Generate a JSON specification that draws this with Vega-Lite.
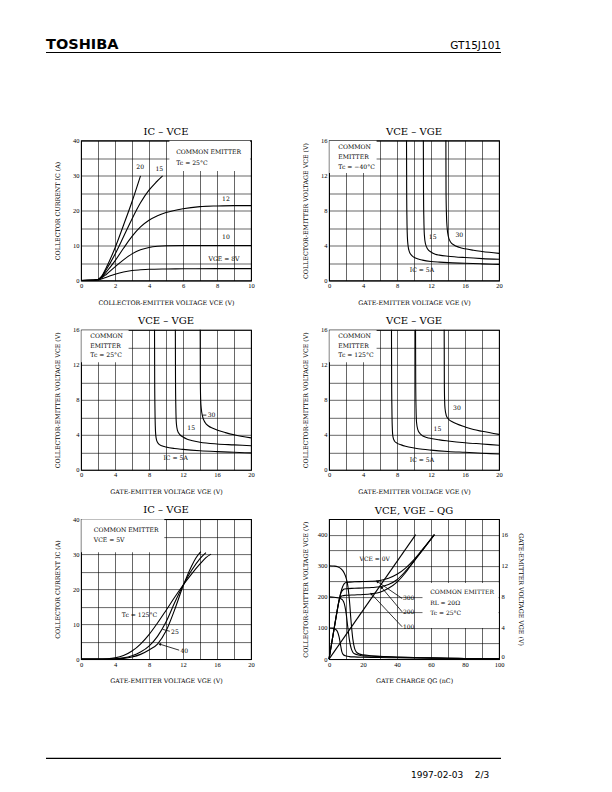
{
"$schema": "https://vega.github.io/schema/vega-lite/v6.json",
"padding": {"left": 45, "top": 36.5, "right": 5, "bottom": 5},
"background": "white",
"config": {
  "view": {"stroke": "#000", "strokeWidth": 1.1},
  "axis": {"grid": true, "gridColor": "#000", "gridWidth": 0.6, "gridOpacity": 1, "domain": false, "ticks": false,
    "labelFont": "Liberation Serif", "labelFontSize": 6.5, "labelColor": "#000", "labelPadding": 2, "labelOverlap": false, "labelFlush": false,
    "titleFont": "DejaVu Serif", "titleFontSize": 6.3, "titleFontWeight": "normal", "titleColor": "#000"},
  "axisX": {"titlePadding": 10},
  "axisY": {"titlePadding": 11.7},
  "title": {"font": "DejaVu Serif", "fontSize": 10, "fontWeight": "normal", "color": "#000", "offset": 1, "baseline": "alphabetic", "frame": "group"}
},
"spacing": 0,
"vconcat": [
  {
    "width": 455, "height": 72.5, "view": {"stroke": null},
    "encoding": {
      "x": {"field": "x", "type": "quantitative", "scale": {"domain": [0, 1]}, "axis": null},
      "y": {"field": "y", "type": "quantitative", "scale": {"domain": [0, 1]}, "axis": null}
    },
    "layer": [
      {"data": {"values": [{"x": 0, "x2": 1, "y": 1}]}, "mark": {"type": "rule", "color": "#000", "strokeWidth": 1.2}, "encoding": {"x2": {"field": "x2"}}},
      {"data": {"values": [{"x": 0, "y": 1, "t": "TOSHIBA"}]}, "mark": {"type": "text", "font": "DejaVu Sans", "fontWeight": "bold", "fontSize": 14.5, "align": "left", "baseline": "alphabetic", "dy": -4, "color": "#000"}, "encoding": {"text": {"field": "t"}}},
      {"data": {"values": [{"x": 1, "y": 1, "t": "GT15J101"}]}, "mark": {"type": "text", "font": "DejaVu Sans", "fontSize": 10.5, "align": "right", "baseline": "alphabetic", "dy": -4, "color": "#000"}, "encoding": {"text": {"field": "t"}}}
    ]
  },
  {
    "spacing": 0,
    "hconcat": [
      {"width": 8, "height": 10, "view": {"stroke": null}, "data": {"values": [{"t": ""}]}, "mark": {"type": "text"}, "encoding": {"text": {"field": "t"}}},
      {
        "spacing": 8.3,
        "vconcat": [
          {
            "spacing": 47,
            "hconcat": [
              {
                "width": 170, "height": 140,
                "title": {"text": "IC – VCE"},
                "encoding": {
                  "x": {"field": "x", "type": "quantitative", "scale": {"domain": [0, 10], "nice": false, "zero": false}, "axis": {"values": [0,1,2,3,4,5,6,7,8,9,10], "labelExpr": "datum.value % 2 === 0 ? datum.label : ''", "title": "COLLECTOR-EMITTER VOLTAGE   VCE   (V)"}},
                  "y": {"field": "y", "type": "quantitative", "scale": {"domain": [0, 40], "nice": false, "zero": false}, "axis": {"values": [0,5,10,15,20,25,30,35,40], "labelExpr": "datum.value % 10 === 0 ? datum.label : ''", "title": "COLLECTOR CURRENT   IC   (A)"}}
                },
                "layer": [
                  {"data": {"values": [{"x": 5.2, "y": 31.3, "x2": 9.94, "y2": 39.94}]}, "mark": {"type": "rect", "fill": "white"}, "encoding": {"x2": {"field": "x2"}, "y2": {"field": "y2"}}},
                  {"data": {"values": [
                    {"s":"8","x":0,"y":0},{"s":"8","x":0.5,"y":0.03},{"s":"8","x":1,"y":0.2},{"s":"8","x":1.2,"y":0.45},{"s":"8","x":1.5,"y":0.95},{"s":"8","x":2,"y":1.8},{"s":"8","x":2.5,"y":2.45},{"s":"8","x":3,"y":2.85},{"s":"8","x":3.5,"y":3.05},{"s":"8","x":4,"y":3.2},{"s":"8","x":5,"y":3.3},{"s":"8","x":6,"y":3.35},{"s":"8","x":8,"y":3.4},{"s":"8","x":10,"y":3.4},
                    {"s":"10","x":0,"y":0},{"s":"10","x":0.5,"y":0.03},{"s":"10","x":1,"y":0.25},{"s":"10","x":1.2,"y":0.7},{"s":"10","x":1.5,"y":1.8},{"s":"10","x":2,"y":3.9},{"s":"10","x":2.5,"y":5.9},{"s":"10","x":3,"y":7.6},{"s":"10","x":3.5,"y":8.8},{"s":"10","x":4,"y":9.45},{"s":"10","x":4.5,"y":9.8},{"s":"10","x":5,"y":9.95},{"s":"10","x":6,"y":10},{"s":"10","x":8,"y":10},{"s":"10","x":10,"y":10},
                    {"s":"12","x":0,"y":0},{"s":"12","x":0.5,"y":0.03},{"s":"12","x":1,"y":0.25},{"s":"12","x":1.2,"y":0.85},{"s":"12","x":1.5,"y":2.5},{"s":"12","x":2,"y":5.6},{"s":"12","x":2.5,"y":9.2},{"s":"12","x":3,"y":12.6},{"s":"12","x":3.5,"y":15.3},{"s":"12","x":4,"y":17.2},{"s":"12","x":4.5,"y":18.5},{"s":"12","x":5,"y":19.4},{"s":"12","x":6,"y":20.5},{"s":"12","x":7,"y":21.1},{"s":"12","x":8,"y":21.3},{"s":"12","x":9,"y":21.4},{"s":"12","x":10,"y":21.4},
                    {"s":"15","x":0,"y":0},{"s":"15","x":0.5,"y":0.03},{"s":"15","x":1,"y":0.3},{"s":"15","x":1.2,"y":1.0},{"s":"15","x":1.5,"y":3.2},{"s":"15","x":2,"y":7.5},{"s":"15","x":2.5,"y":12.5},{"s":"15","x":3,"y":17.6},{"s":"15","x":3.5,"y":22.2},{"s":"15","x":4,"y":25.8},{"s":"15","x":4.4,"y":28},{"s":"15","x":4.8,"y":29.9},
                    {"s":"20","x":0,"y":0},{"s":"20","x":0.5,"y":0.03},{"s":"20","x":1,"y":0.3},{"s":"20","x":1.2,"y":1.1},{"s":"20","x":1.5,"y":3.8},{"s":"20","x":2,"y":9.3},{"s":"20","x":2.5,"y":15.8},{"s":"20","x":3,"y":22.5},{"s":"20","x":3.5,"y":29.9}
                  ]}, "mark": {"type": "line", "interpolate": "monotone", "color": "#000", "strokeWidth": 1.1}, "encoding": {"detail": {"field": "s"}}},
                  {"data": {"values": [
                    {"x":5.6,"y":36.7,"t":"COMMON EMITTER"},{"x":5.6,"y":33.5,"t":"Tc = 25°C"},{"x":3.25,"y":32.3,"t":"20"},{"x":4.38,"y":31.8,"t":"15"},{"x":8.3,"y":23.2,"t":"12"},{"x":8.3,"y":12.4,"t":"10"},{"x":7.5,"y":6.1,"t":"VGE = 8V"}
                  ]}, "mark": {"type": "text", "font": "DejaVu Serif", "fontSize": 6.1, "align": "left", "baseline": "middle", "color": "#000"}, "encoding": {"text": {"field": "t"}}}
                ]
              },
              {
                "width": 170, "height": 140,
                "title": {"text": "VCE – VGE"},
                "encoding": {
                  "x": {"field": "x", "type": "quantitative", "scale": {"domain": [0, 20], "nice": false, "zero": false}, "axis": {"values": [0,2,4,6,8,10,12,14,16,18,20], "labelExpr": "datum.value % 4 === 0 ? datum.label : ''", "title": "GATE-EMITTER VOLTAGE   VGE   (V)"}},
                  "y": {"field": "y", "type": "quantitative", "scale": {"domain": [0, 16], "nice": false, "zero": false}, "axis": {"values": [0,2,4,6,8,10,12,14,16], "labelExpr": "datum.value % 4 === 0 ? datum.label : ''", "title": "COLLECTOR-EMITTER VOLTAGE   VCE   (V)"}}
                },
                "layer": [
                  {"data": {"values": [{"x": 0.04, "y": 12.3, "x2": 5.6, "y2": 15.96}]}, "mark": {"type": "rect", "fill": "white"}, "encoding": {"x2": {"field": "x2"}, "y2": {"field": "y2"}}},
                  {"data": {"values": [
                    {"s":"5","x":9.12,"y":16},{"s":"5","x":9.14,"y":10},{"s":"5","x":9.17,"y":7},{"s":"5","x":9.22,"y":5},{"s":"5","x":9.3,"y":4},{"s":"5","x":9.45,"y":3.3},{"s":"5","x":9.7,"y":2.9},{"s":"5","x":10,"y":2.65},{"s":"5","x":10.5,"y":2.45},{"s":"5","x":11,"y":2.33},{"s":"5","x":12,"y":2.18},{"s":"5","x":13,"y":2.1},{"s":"5","x":14,"y":2.04},{"s":"5","x":16,"y":1.97},{"s":"5","x":18,"y":1.9},{"s":"5","x":20,"y":1.84},
                    {"s":"15","x":11.1,"y":16},{"s":"15","x":11.12,"y":10},{"s":"15","x":11.16,"y":7},{"s":"15","x":11.22,"y":5.2},{"s":"15","x":11.35,"y":4.2},{"s":"15","x":11.6,"y":3.6},{"s":"15","x":12,"y":3.25},{"s":"15","x":12.5,"y":3.0},{"s":"15","x":13,"y":2.9},{"s":"15","x":14,"y":2.78},{"s":"15","x":16,"y":2.62},{"s":"15","x":18,"y":2.5},{"s":"15","x":20,"y":2.42},
                    {"s":"30","x":13.75,"y":16},{"s":"30","x":13.77,"y":10},{"s":"30","x":13.82,"y":7.5},{"s":"30","x":13.9,"y":6},{"s":"30","x":14.05,"y":5},{"s":"30","x":14.3,"y":4.4},{"s":"30","x":14.7,"y":4.05},{"s":"30","x":15.3,"y":3.8},{"s":"30","x":16,"y":3.62},{"s":"30","x":17,"y":3.45},{"s":"30","x":18,"y":3.32},{"s":"30","x":20,"y":3.1}
                  ]}, "mark": {"type": "line", "interpolate": "monotone", "color": "#000", "strokeWidth": 1.1}, "encoding": {"detail": {"field": "s"}}},
                  {"data": {"values": [
                    {"x":1.1,"y":15.3,"t":"COMMON"},{"x":1.1,"y":14.06,"t":"EMITTER"},{"x":1.1,"y":13.0,"t":"Tc = −40°C"},{"x":11.74,"y":4.95,"t":"15"},{"x":14.87,"y":5.2,"t":"30"},{"x":9.5,"y":1.22,"t":"IC = 5A"}
                  ]}, "mark": {"type": "text", "font": "DejaVu Serif", "fontSize": 6.1, "align": "left", "baseline": "middle", "color": "#000"}, "encoding": {"text": {"field": "t"}}}
                ]
              }
            ]
          },
          {
            "spacing": 47,
            "hconcat": [
              {
                "width": 170, "height": 140,
                "title": {"text": "VCE – VGE"},
                "encoding": {
                  "x": {"field": "x", "type": "quantitative", "scale": {"domain": [0, 20], "nice": false, "zero": false}, "axis": {"values": [0,2,4,6,8,10,12,14,16,18,20], "labelExpr": "datum.value % 4 === 0 ? datum.label : ''", "title": "GATE-EMITTER VOLTAGE   VGE   (V)"}},
                  "y": {"field": "y", "type": "quantitative", "scale": {"domain": [0, 16], "nice": false, "zero": false}, "axis": {"values": [0,2,4,6,8,10,12,14,16], "labelExpr": "datum.value % 4 === 0 ? datum.label : ''", "title": "COLLECTOR-EMITTER VOLTAGE   VCE   (V)"}}
                },
                "layer": [
                  {"data": {"values": [{"x": 0.04, "y": 12.3, "x2": 5.6, "y2": 15.96}]}, "mark": {"type": "rect", "fill": "white"}, "encoding": {"x2": {"field": "x2"}, "y2": {"field": "y2"}}},
                  {"data": {"values": [
                    {"s":"5","x":8.65,"y":16},{"s":"5","x":8.67,"y":10},{"s":"5","x":8.7,"y":7},{"s":"5","x":8.74,"y":5},{"s":"5","x":8.8,"y":3.9},{"s":"5","x":8.92,"y":3.3},{"s":"5","x":9.1,"y":3.0},{"s":"5","x":9.5,"y":2.75},{"s":"5","x":10,"y":2.6},{"s":"5","x":11,"y":2.43},{"s":"5","x":12,"y":2.33},{"s":"5","x":14,"y":2.18},{"s":"5","x":16,"y":2.08},{"s":"5","x":18,"y":2.0},{"s":"5","x":20,"y":1.93},
                    {"s":"15","x":11.1,"y":16},{"s":"15","x":11.12,"y":10},{"s":"15","x":11.16,"y":7},{"s":"15","x":11.22,"y":5.3},{"s":"15","x":11.35,"y":4.5},{"s":"15","x":11.6,"y":4.05},{"s":"15","x":12,"y":3.75},{"s":"15","x":12.5,"y":3.5},{"s":"15","x":13,"y":3.35},{"s":"15","x":14,"y":3.15},{"s":"15","x":16,"y":2.95},{"s":"15","x":18,"y":2.85},{"s":"15","x":20,"y":2.75},
                    {"s":"30","x":14.02,"y":16},{"s":"30","x":14.04,"y":10},{"s":"30","x":14.08,"y":8},{"s":"30","x":14.15,"y":7},{"s":"30","x":14.3,"y":6.1},{"s":"30","x":14.6,"y":5.4},{"s":"30","x":15,"y":5.0},{"s":"30","x":15.5,"y":4.75},{"s":"30","x":16,"y":4.55},{"s":"30","x":17,"y":4.25},{"s":"30","x":18,"y":4.0},{"s":"30","x":20,"y":3.65}
                  ]}, "mark": {"type": "line", "interpolate": "monotone", "color": "#000", "strokeWidth": 1.1}, "encoding": {"detail": {"field": "s"}}},
                  {"data": {"values": [{"x": 14.3, "x2": 14.75, "y": 6.25}]}, "mark": {"type": "rule", "color": "#000", "strokeWidth": 0.8}, "encoding": {"x2": {"field": "x2"}}},
                  {"data": {"values": [
                    {"x":1.1,"y":15.3,"t":"COMMON"},{"x":1.1,"y":14.2,"t":"EMITTER"},{"x":1.1,"y":13.1,"t":"Tc = 25°C"},{"x":14.9,"y":6.25,"t":"30"},{"x":12.5,"y":4.8,"t":"15"},{"x":9.7,"y":1.3,"t":"IC = 5A"}
                  ]}, "mark": {"type": "text", "font": "DejaVu Serif", "fontSize": 6.1, "align": "left", "baseline": "middle", "color": "#000"}, "encoding": {"text": {"field": "t"}}}
                ]
              },
              {
                "width": 170, "height": 140,
                "title": {"text": "VCE – VGE"},
                "encoding": {
                  "x": {"field": "x", "type": "quantitative", "scale": {"domain": [0, 20], "nice": false, "zero": false}, "axis": {"values": [0,2,4,6,8,10,12,14,16,18,20], "labelExpr": "datum.value % 4 === 0 ? datum.label : ''", "title": "GATE-EMITTER VOLTAGE   VGE   (V)"}},
                  "y": {"field": "y", "type": "quantitative", "scale": {"domain": [0, 16], "nice": false, "zero": false}, "axis": {"values": [0,2,4,6,8,10,12,14,16], "labelExpr": "datum.value % 4 === 0 ? datum.label : ''", "title": "COLLECTOR-EMITTER VOLTAGE   VCE   (V)"}}
                },
                "layer": [
                  {"data": {"values": [{"x": 0.04, "y": 12.3, "x2": 5.6, "y2": 15.96}]}, "mark": {"type": "rect", "fill": "white"}, "encoding": {"x2": {"field": "x2"}, "y2": {"field": "y2"}}},
                  {"data": {"values": [
                    {"s":"5","x":7.35,"y":16},{"s":"5","x":7.37,"y":10},{"s":"5","x":7.4,"y":7},{"s":"5","x":7.44,"y":5},{"s":"5","x":7.52,"y":3.8},{"s":"5","x":7.7,"y":3.3},{"s":"5","x":8,"y":3.05},{"s":"5","x":8.5,"y":2.85},{"s":"5","x":9,"y":2.7},{"s":"5","x":10,"y":2.5},{"s":"5","x":11,"y":2.35},{"s":"5","x":12,"y":2.25},{"s":"5","x":14,"y":2.1},{"s":"5","x":16,"y":2.0},{"s":"5","x":18,"y":1.9},{"s":"5","x":20,"y":1.8},
                    {"s":"15","x":10.18,"y":16},{"s":"15","x":10.2,"y":10},{"s":"15","x":10.24,"y":7},{"s":"15","x":10.3,"y":5.4},{"s":"15","x":10.45,"y":4.6},{"s":"15","x":10.7,"y":4.15},{"s":"15","x":11,"y":3.9},{"s":"15","x":11.5,"y":3.7},{"s":"15","x":12,"y":3.58},{"s":"15","x":13,"y":3.42},{"s":"15","x":14,"y":3.3},{"s":"15","x":16,"y":3.1},{"s":"15","x":18,"y":2.95},{"s":"15","x":20,"y":2.8},
                    {"s":"30","x":13.55,"y":16},{"s":"30","x":13.57,"y":10},{"s":"30","x":13.6,"y":8},{"s":"30","x":13.65,"y":7},{"s":"30","x":13.8,"y":6.2},{"s":"30","x":14.1,"y":5.75},{"s":"30","x":14.5,"y":5.5},{"s":"30","x":15,"y":5.25},{"s":"30","x":16,"y":4.9},{"s":"30","x":17,"y":4.6},{"s":"30","x":18,"y":4.4},{"s":"30","x":20,"y":4.05}
                  ]}, "mark": {"type": "line", "interpolate": "monotone", "color": "#000", "strokeWidth": 1.1}, "encoding": {"detail": {"field": "s"}}},
                  {"data": {"values": [
                    {"x":1.1,"y":15.3,"t":"COMMON"},{"x":1.1,"y":14.2,"t":"EMITTER"},{"x":1.1,"y":13.1,"t":"Tc = 125°C"},{"x":14.6,"y":7.05,"t":"30"},{"x":12.3,"y":4.65,"t":"15"},{"x":9.5,"y":1.1,"t":"IC = 5A"}
                  ]}, "mark": {"type": "text", "font": "DejaVu Serif", "fontSize": 6.1, "align": "left", "baseline": "middle", "color": "#000"}, "encoding": {"text": {"field": "t"}}}
                ]
              }
            ]
          },
          {
            "spacing": 47,
            "hconcat": [
              {
                "width": 170, "height": 140,
                "title": {"text": "IC – VGE"},
                "encoding": {
                  "x": {"field": "x", "type": "quantitative", "scale": {"domain": [0, 20], "nice": false, "zero": false}, "axis": {"values": [0,2,4,6,8,10,12,14,16,18,20], "labelExpr": "datum.value % 4 === 0 ? datum.label : ''", "title": "GATE-EMITTER VOLTAGE   VGE   (V)"}},
                  "y": {"field": "y", "type": "quantitative", "scale": {"domain": [0, 40], "nice": false, "zero": false}, "axis": {"values": [0,5,10,15,20,25,30,35,40], "labelExpr": "datum.value % 10 === 0 ? datum.label : ''", "title": "COLLECTOR CURRENT   IC   (A)"}}
                },
                "layer": [
                  {"data": {"values": [{"x": 0.04, "y": 30.5, "x2": 9.8, "y2": 39.94}]}, "mark": {"type": "rect", "fill": "white"}, "encoding": {"x2": {"field": "x2"}, "y2": {"field": "y2"}}},
                  {"data": {"values": [
                    {"s":"125","x":0,"y":0},{"s":"125","x":2,"y":0.02},{"s":"125","x":3,"y":0.1},{"s":"125","x":4,"y":0.35},{"s":"125","x":5,"y":1.0},{"s":"125","x":6,"y":2.3},{"s":"125","x":7,"y":4.3},{"s":"125","x":8,"y":7.0},{"s":"125","x":9,"y":10.3},{"s":"125","x":10,"y":13.9},{"s":"125","x":11,"y":17.6},{"s":"125","x":12,"y":21.1},{"s":"125","x":13,"y":24.3},{"s":"125","x":14,"y":27.2},{"s":"125","x":14.7,"y":29},{"s":"125","x":15.3,"y":30},
                    {"s":"25","x":0,"y":0},{"s":"25","x":2,"y":0.01},{"s":"25","x":3,"y":0.03},{"s":"25","x":4,"y":0.1},{"s":"25","x":5,"y":0.35},{"s":"25","x":6,"y":0.95},{"s":"25","x":7,"y":2.0},{"s":"25","x":8,"y":3.7},{"s":"25","x":9,"y":6.5},{"s":"25","x":10,"y":10.6},{"s":"25","x":11,"y":16.0},{"s":"25","x":12,"y":21.0},{"s":"25","x":13,"y":25.3},{"s":"25","x":14,"y":28.7},{"s":"25","x":14.7,"y":30.4},
                    {"s":"-40","x":0,"y":0},{"s":"-40","x":3,"y":0.01},{"s":"-40","x":4,"y":0.05},{"s":"-40","x":5,"y":0.2},{"s":"-40","x":6,"y":0.6},{"s":"-40","x":7,"y":1.35},{"s":"-40","x":8,"y":2.6},{"s":"-40","x":9,"y":4.3},{"s":"-40","x":10,"y":8.0},{"s":"-40","x":11,"y":14.0},{"s":"-40","x":12,"y":20.8},{"s":"-40","x":12.5,"y":23.8},{"s":"-40","x":13,"y":26.5},{"s":"-40","x":13.5,"y":28.8},{"s":"-40","x":14.1,"y":30.7}
                  ]}, "mark": {"type": "line", "interpolate": "monotone", "color": "#000", "strokeWidth": 1.1}, "encoding": {"detail": {"field": "s"}}},
                  {"data": {"values": [{"x": 9.6, "y": 8.5, "x2": 10.45, "y2": 7.95}, {"x": 11.55, "y": 2.55, "x2": 9.3, "y2": 4.25}]}, "mark": {"type": "rule", "color": "#000", "strokeWidth": 0.8}, "encoding": {"x2": {"field": "x2"}, "y2": {"field": "y2"}}},
                  {"data": {"values": [{"x": 9.3, "y": 4.25}]}, "mark": {"type": "point", "shape": "triangle", "filled": true, "color": "#000", "opacity": 1, "size": 10, "angle": 287.5}},
                  {"data": {"values": [
                    {"x":1.5,"y":36.9,"t":"COMMON EMITTER"},{"x":1.5,"y":34.0,"t":"VCE = 5V"},{"x":4.8,"y":12.6,"t":"Tc = 125°C"},{"x":10.6,"y":7.8,"t":"25"},{"x":11.7,"y":2.4,"t":"40"}
                  ]}, "mark": {"type": "text", "font": "DejaVu Serif", "fontSize": 6.1, "align": "left", "baseline": "middle", "color": "#000"}, "encoding": {"text": {"field": "t"}}}
                ]
              },
              {
                "width": 170, "height": 140,
                "title": {"text": "VCE, VGE – QG"},
                "encoding": {
                  "x": {"field": "x", "type": "quantitative", "scale": {"domain": [0, 100], "nice": false, "zero": false}, "axis": {"values": [0,10,20,30,40,50,60,70,80,90,100], "labelExpr": "datum.value % 20 === 0 ? datum.label : ''", "labelOverlap": false, "title": "GATE CHARGE   QG   (nC)"}}
                },
                "layer": [
                  {
                    "encoding": {
                      "y": {"field": "y", "type": "quantitative", "scale": {"domain": [0, 450], "nice": false, "zero": false}, "axis": {"values": [0,50,100,150,200,250,300,350,400], "labelExpr": "datum.value % 100 === 0 ? datum.label : ''", "title": "COLLECTOR-EMITTER VOLTAGE   VCE   (V)", "titlePadding": 8.45}}
                    },
                    "layer": [
                      {"data": {"values": [{"x": 55, "y": 100, "x2": 99.7, "y2": 245}]}, "mark": {"type": "rect", "fill": "white"}, "encoding": {"x2": {"field": "x2"}, "y2": {"field": "y2"}}},
                      {"data": {"values": [
                        {"s":"300","x":0,"y":300},{"s":"300","x":3,"y":299},{"s":"300","x":5,"y":297},{"s":"300","x":7,"y":291},{"s":"300","x":8,"y":285},{"s":"300","x":9,"y":276},{"s":"300","x":10,"y":262},{"s":"300","x":11,"y":238},{"s":"300","x":12,"y":190},{"s":"300","x":13,"y":120},{"s":"300","x":14,"y":65},{"s":"300","x":15,"y":35},{"s":"300","x":16,"y":23},{"s":"300","x":18,"y":16},{"s":"300","x":20,"y":13.5},{"s":"300","x":25,"y":11},{"s":"300","x":30,"y":9},{"s":"300","x":40,"y":6.5},{"s":"300","x":50,"y":5},{"s":"300","x":60,"y":3.8},{"s":"300","x":70,"y":2.8},{"s":"300","x":80,"y":2},{"s":"300","x":90,"y":1.5},{"s":"300","x":100,"y":1},
                        {"s":"200","x":0,"y":200},{"s":"200","x":3,"y":199},{"s":"200","x":5,"y":197},{"s":"200","x":7,"y":194},{"s":"200","x":8,"y":190},{"s":"200","x":9,"y":178},{"s":"200","x":10,"y":150},{"s":"200","x":11,"y":105},{"s":"200","x":12,"y":62},{"s":"200","x":13,"y":35},{"s":"200","x":14,"y":22},{"s":"200","x":15,"y":17},{"s":"200","x":18,"y":12.5},{"s":"200","x":20,"y":10.5},{"s":"200","x":25,"y":9},{"s":"200","x":30,"y":8},{"s":"200","x":40,"y":6},{"s":"200","x":60,"y":3.5},{"s":"200","x":80,"y":2},{"s":"200","x":100,"y":1},
                        {"s":"100","x":0,"y":100},{"s":"100","x":2,"y":99.5},{"s":"100","x":3,"y":98},{"s":"100","x":4,"y":95},{"s":"100","x":5,"y":88},{"s":"100","x":6,"y":70},{"s":"100","x":6.8,"y":45},{"s":"100","x":7.5,"y":25},{"s":"100","x":8.5,"y":14},{"s":"100","x":10,"y":10},{"s":"100","x":12,"y":8},{"s":"100","x":15,"y":7},{"s":"100","x":20,"y":6},{"s":"100","x":30,"y":5},{"s":"100","x":40,"y":4.2},{"s":"100","x":60,"y":3},{"s":"100","x":80,"y":2},{"s":"100","x":100,"y":1}
                      ]}, "mark": {"type": "line", "interpolate": "monotone", "color": "#000", "strokeWidth": 1.1}, "encoding": {"detail": {"field": "s"}}},
                      {"data": {"values": [{"x": 43, "y": 195, "x2": 28.5, "y2": 249}, {"x": 43, "y": 152, "x2": 31, "y2": 230}, {"x": 43, "y": 104, "x2": 25, "y2": 209}]}, "mark": {"type": "rule", "color": "#000", "strokeWidth": 0.8}, "encoding": {"x2": {"field": "x2"}, "y2": {"field": "y2"}}},
                      {"data": {"values": [{"x": 28.5, "y": 249}]}, "mark": {"type": "point", "shape": "triangle", "filled": true, "color": "#000", "opacity": 1, "size": 10, "angle": 304.3}},
                      {"data": {"values": [{"x": 31, "y": 230}]}, "mark": {"type": "point", "shape": "triangle", "filled": true, "color": "#000", "opacity": 1, "size": 10, "angle": 319.9}},
                      {"data": {"values": [{"x": 25, "y": 209}]}, "mark": {"type": "point", "shape": "triangle", "filled": true, "color": "#000", "opacity": 1, "size": 10, "angle": 316.9}},
                      {"data": {"values": [
                        {"x":18,"y":322,"t":"VCE = 0V"},{"x":43.5,"y":195,"t":"300"},{"x":43.5,"y":152,"t":"200"},{"x":43.5,"y":104,"t":"100"},{"x":59.5,"y":217,"t":"COMMON EMITTER"},{"x":59.5,"y":181,"t":"RL = 20Ω"},{"x":59.5,"y":149,"t":"Tc = 25°C"}
                      ]}, "mark": {"type": "text", "font": "DejaVu Serif", "fontSize": 6.0, "align": "left", "baseline": "middle", "color": "#000"}, "encoding": {"text": {"field": "t"}}}
                    ]
                  },
                  {
                    "data": {"values": [
                      {"s":"g0","x":0,"y":0},{"s":"g0","x":51,"y":16},
                      {"s":"g100","x":0,"y":0},{"s":"g100","x":2,"y":2.6},{"s":"g100","x":4,"y":5.2},{"s":"g100","x":5,"y":6.5},{"s":"g100","x":6,"y":7.6},{"s":"g100","x":7,"y":8.05},{"s":"g100","x":8,"y":8.15},{"s":"g100","x":10,"y":8.2},{"s":"g100","x":15,"y":8.25},{"s":"g100","x":20,"y":8.3},{"s":"g100","x":25,"y":8.4},{"s":"g100","x":30,"y":8.6},{"s":"g100","x":35,"y":9.1},{"s":"g100","x":40,"y":9.9},{"s":"g100","x":45,"y":11.1},{"s":"g100","x":50,"y":12.6},{"s":"g100","x":55,"y":14.0},{"s":"g100","x":62,"y":16},
                      {"s":"g200","x":0,"y":0},{"s":"g200","x":2,"y":2.6},{"s":"g200","x":4,"y":5.2},{"s":"g200","x":6,"y":7.6},{"s":"g200","x":7,"y":8.5},{"s":"g200","x":8,"y":8.85},{"s":"g200","x":9,"y":9.0},{"s":"g200","x":10,"y":9.05},{"s":"g200","x":15,"y":9.1},{"s":"g200","x":20,"y":9.15},{"s":"g200","x":25,"y":9.2},{"s":"g200","x":30,"y":9.3},{"s":"g200","x":35,"y":9.6},{"s":"g200","x":40,"y":10.2},{"s":"g200","x":45,"y":11.3},{"s":"g200","x":50,"y":12.6},{"s":"g200","x":55,"y":14.0},{"s":"g200","x":62,"y":16},
                      {"s":"g300","x":0,"y":0},{"s":"g300","x":2,"y":2.6},{"s":"g300","x":4,"y":5.2},{"s":"g300","x":6,"y":7.6},{"s":"g300","x":7,"y":8.6},{"s":"g300","x":8,"y":9.3},{"s":"g300","x":9,"y":9.7},{"s":"g300","x":10,"y":9.85},{"s":"g300","x":12,"y":9.9},{"s":"g300","x":15,"y":9.95},{"s":"g300","x":20,"y":9.97},{"s":"g300","x":25,"y":10.0},{"s":"g300","x":30,"y":10.1},{"s":"g300","x":35,"y":10.4},{"s":"g300","x":40,"y":10.9},{"s":"g300","x":45,"y":11.7},{"s":"g300","x":50,"y":12.8},{"s":"g300","x":55,"y":14.1},{"s":"g300","x":62,"y":16}
                    ]},
                    "mark": {"type": "line", "interpolate": "monotone", "color": "#000", "strokeWidth": 1.1},
                    "encoding": {
                      "y": {"field": "y", "type": "quantitative", "scale": {"domain": [0, 18], "nice": false, "zero": false}, "axis": {"orient": "right", "grid": false, "values": [0,4,8,12,16], "labelFlush": true, "title": "GATE-EMITTER VOLTAGE   VGE   (V)", "titlePadding": 10}},
                      "detail": {"field": "s"}
                    }
                  }
                ],
                "resolve": {"scale": {"y": "independent"}, "axis": {"y": "independent"}}
              }
            ]
          }
        ]
      }
    ]
  },
  {
    "width": 455, "height": 73.8, "view": {"stroke": null},
    "encoding": {
      "x": {"field": "x", "type": "quantitative", "scale": {"domain": [0, 1]}, "axis": null},
      "y": {"field": "y", "type": "quantitative", "scale": {"domain": [0, 1]}, "axis": null}
    },
    "layer": [
      {"data": {"values": [{"x": 0, "x2": 1, "y": 0}]}, "mark": {"type": "rule", "color": "#000", "strokeWidth": 1.2}, "encoding": {"x2": {"field": "x2"}}},
      {"data": {"values": [{"x": 0.974, "y": 0, "t": "1997-02-03\u00a0\u00a0\u00a0\u00a02/3"}]}, "mark": {"type": "text", "font": "DejaVu Sans", "fontSize": 9, "align": "right", "baseline": "middle", "dy": 17, "color": "#000"}, "encoding": {"text": {"field": "t"}}}
    ]
  }
]
}
